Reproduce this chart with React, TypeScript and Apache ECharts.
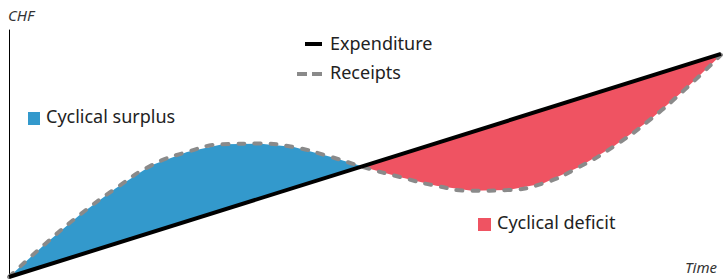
import React, { useEffect, useRef } from "react";
import * as echarts from "echarts";

const times = [0, 5, 10, 15, 20, 25, 30, 35, 40, 45, 50, 55, 60, 65, 70, 75, 80, 85, 90, 95, 100];
const receipts = [0, 13.2, 25.3, 35.9, 45.2, 50.6, 53.7, 54.0, 52.6, 48.8, 44.3, 40.4, 36.9, 34.9, 35.2, 37.9, 44.4, 53.0, 63.6, 76.1, 89.9];
const expenditureTimes = [0, 100];
const expenditure = [0, 90.3];
const crossing = [49.6, 44.8];

const legendItems = ["Expenditure", "Receipts"];
const regionLabels = ["Cyclical surplus", "Cyclical deficit"];
const regionColors = ["#3399cc", "#ef5362"];

export default function App() {
  const ref = useRef<HTMLDivElement>(null);
  useEffect(() => {
    if (!ref.current) return;
    const chart = echarts.init(ref.current, undefined, { renderer: "svg" });
    const recPts = times.map((t, i) => [t, receipts[i]]);
    const regions = [
      [...recPts.filter((p) => p[0] < crossing[0]), crossing],
      [crossing, ...recPts.filter((p) => p[0] > crossing[0])],
    ];
    const font = "'Noto Sans', 'Open Sans', sans-serif";
    chart.setOption({
      animation: false,
      grid: { left: 9, right: 2, top: 30, bottom: 2 },
      xAxis: {
        type: "value",
        min: 0,
        max: 100,
        show: false,
      },
      yAxis: {
        type: "value",
        min: 0,
        max: 100,
        axisLine: { show: true, lineStyle: { color: "#000", width: 1 } },
        axisTick: { show: false },
        axisLabel: { show: false },
        splitLine: { show: false },
      },
      series: [
        {
          type: "custom",
          z: 1,
          data: [[0, 0], [1, 0]],
          renderItem: (params: any, api: any) => {
            const pts = regions[params.dataIndex].map((p) => api.coord(p));
            return {
              type: "polygon",
              shape: { points: pts },
              style: { fill: regionColors[params.dataIndex] },
            };
          },
        },
        {
          type: "line",
          name: legendItems[1],
          z: 2,
          data: recPts,
          smooth: 0.5,
          symbol: "none",
          clip: false,
          lineStyle: { color: "#8a8a8a", width: 4, type: [6, 10], cap: "round" },
        },
        {
          type: "line",
          name: legendItems[0],
          z: 3,
          data: expenditureTimes.map((t, i) => [t, expenditure[i]]),
          symbol: "none",
          clip: false,
          lineStyle: { color: "#000", width: 4 },
        },
      ],
      graphic: [
        { type: "text", left: 8, top: 7, style: { text: "CHF", font: `italic 15px ${font}`, fill: "#333" } },
        { type: "text", right: 6, top: 259, style: { text: "Time", font: `italic 15px ${font}`, fill: "#333" } },
        { type: "line", shape: { x1: 305, y1: 44, x2: 322, y2: 44 }, style: { stroke: "#000", lineWidth: 4 } },
        { type: "text", left: 330, top: 34, style: { text: legendItems[0], font: `18px ${font}`, fill: "#222" } },
        { type: "line", shape: { x1: 297, y1: 74, x2: 322, y2: 74 }, style: { stroke: "#8a8a8a", lineWidth: 4, lineDash: [10, 5] } },
        { type: "text", left: 330, top: 63, style: { text: legendItems[1], font: `18px ${font}`, fill: "#222" } },
        { type: "rect", shape: { x: 28, y: 112, width: 12, height: 13 }, style: { fill: regionColors[0] } },
        { type: "text", left: 46, top: 107, style: { text: regionLabels[0], font: `18px ${font}`, fill: "#222" } },
        { type: "rect", shape: { x: 478, y: 218, width: 13, height: 13 }, style: { fill: regionColors[1] } },
        { type: "text", left: 497, top: 213, style: { text: regionLabels[1], font: `18px ${font}`, fill: "#222" } },
      ],
    });
    return () => chart.dispose();
  }, []);
  return <div ref={ref} style={{ width: 723, height: 279, position: "absolute", left: 0, top: 0 }} />;
}
